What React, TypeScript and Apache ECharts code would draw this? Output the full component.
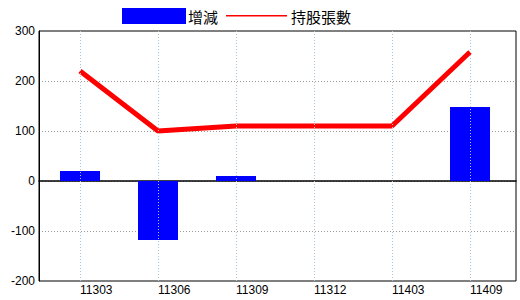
import React, { useEffect, useRef } from "react";
import * as echarts from "echarts";

const categories = ["11303", "11306", "11309", "11312", "11403", "11409"];
const changeValues = [20, -118, 10, 0, 0, 148];
const holdingValues = [220, 100, 110, 110, 110, 258];
const yMin = -200;
const yMax = 300;
const yStep = 100;

const FONT = "'Liberation Sans', Arial, sans-serif";
const CJK = "'Noto Sans CJK TC', 'Noto Sans CJK SC', sans-serif";

export default function App() {
  const ref = useRef<HTMLDivElement>(null);
  useEffect(() => {
    if (!ref.current) return;
    const chart = echarts.init(ref.current, undefined, { renderer: "svg" });
    chart.setOption({
      animation: false,
      backgroundColor: "#ffffff",
      grid: [
        { left: 41, right: 11, top: 31, bottom: 19, show: false },
        {
          left: 39,
          right: 4,
          top: 31,
          bottom: 19,
          show: true,
          borderColor: "#000",
          borderWidth: 1,
          backgroundColor: "transparent",
        },
      ],
      xAxis: [
        {
          type: "category",
          gridIndex: 0,
          data: categories,
          axisLine: { show: false },
          axisTick: { show: false },
          splitLine: { show: false },
          axisLabel: {
            align: "left",
            margin: 3,
            color: "#000",
            fontSize: 12,
            fontFamily: FONT,
          },
        },
        {
          type: "value",
          gridIndex: 1,
          min: 0,
          max: 1,
          axisLabel: { show: false },
          axisTick: { show: false },
          splitLine: { show: false },
          axisLine: { show: true, onZero: true, lineStyle: { color: "#000", width: 1.5 } },
        },
      ],
      yAxis: [
        { type: "value", gridIndex: 0, min: yMin, max: yMax, interval: yStep, show: false },
        {
          type: "value",
          gridIndex: 1,
          min: yMin,
          max: yMax,
          interval: yStep,
          axisLine: { show: true, lineStyle: { color: "#000" } },
          axisTick: { show: false },
          axisLabel: { color: "#000", fontSize: 12, fontFamily: FONT, margin: 4 },
          splitLine: {
            show: true,
            showMinLine: false,
            showMaxLine: false,
            lineStyle: { type: [1, 2], color: "#999", width: 1 },
          },
        },
      ],
      graphic: [
        { type: "rect", shape: { x: 122, y: 8, width: 64, height: 16 }, style: { fill: "#0000ff" } },
        {
          type: "text",
          x: 188,
          y: 16,
          style: { text: "增減", fill: "#000", font: `15px ${CJK}`, verticalAlign: "middle" },
        },
        {
          type: "rect",
          shape: { x: 226, y: 15, width: 61, height: 1.5 },
          style: { fill: "#ff0000" },
        },
        {
          type: "text",
          x: 291,
          y: 16,
          style: { text: "持股張數", fill: "#000", font: `15px ${CJK}`, verticalAlign: "middle" },
        },
      ],
      series: [
        {
          type: "line",
          xAxisIndex: 0,
          yAxisIndex: 0,
          data: categories.map(() => "-"),
          z: 1,
          silent: true,
          symbol: "none",
          markLine: {
            silent: true,
            symbol: "none",
            label: { show: false },
            lineStyle: { type: [1, 2], color: "#a8c4d6", width: 1 },
            data: categories.map((c) => ({ xAxis: c })),
          },
        },
        {
          name: "增減",
          type: "bar",
          xAxisIndex: 0,
          yAxisIndex: 0,
          data: changeValues,
          barWidth: 40,
          z: 2,
          itemStyle: { color: "#0000ff" },
        },
        {
          name: "持股張數",
          type: "line",
          xAxisIndex: 0,
          yAxisIndex: 0,
          data: holdingValues,
          z: 3,
          symbol: "none",
          lineStyle: { color: "#ff0000", width: 5 },
        },
      ],
    });
    return () => chart.dispose();
  }, []);
  return (
    <div
      ref={ref}
      style={{ position: "fixed", left: 0, top: 0, width: 520, height: 300, background: "#fff" }}
    />
  );
}
